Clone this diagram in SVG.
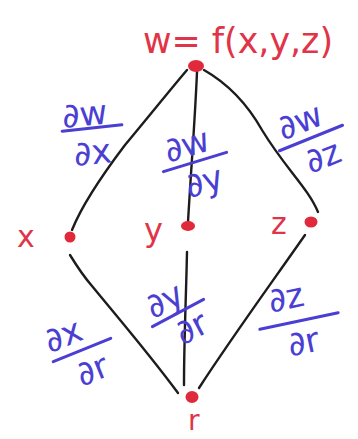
<svg xmlns="http://www.w3.org/2000/svg" width="358" height="439" viewBox="0 0 358 439">
<style>
.red{fill:#e03448;font-family:"DejaVu Sans",sans-serif;}
.dot{fill:#e02a3c;}
.edge{fill:none;stroke:#1c1c1c;stroke-width:2.4;stroke-linecap:round;stroke-linejoin:round;}
.frac text{fill:#4b3fd3;font-family:"DejaVu Sans",sans-serif;font-size:34px;text-anchor:middle;}
.frac line{stroke:#4b3fd3;stroke-width:3;stroke-linecap:round;}
</style>
<rect width="358" height="439" fill="#ffffff"/>
<g id="connectors">
<path class="edge" d="M187,70 C170,90 150,115 125,145 C100,178 82,205 72,230"/>
<path class="edge" d="M197,72 C195,120 191,170 188,222"/>
<path class="edge" d="M204,70 C225,82 245,100 262,130 C285,168 308,188 318,212"/>
<path class="edge" d="M70,255 C78,268 85,278 92,286 C120,320 150,355 178,393"/>
<path class="edge" d="M187,252 C186,300 184,340 184,385"/>
<path class="edge" d="M305,235 C270,285 230,340 199,388"/>
</g>
<g id="node-w">
<text class="red" x="143" y="53" font-size="36" textLength="190" lengthAdjust="spacingAndGlyphs">w= f(x,y,z)</text>
<ellipse class="dot" cx="196" cy="66" rx="8" ry="6"/>
</g>
<g id="node-x">
<text class="red" x="17" y="247" font-size="30">x</text>
<ellipse class="dot" cx="70" cy="237" rx="5.5" ry="5.5"/>
</g>
<g id="node-y">
<text class="red" x="144" y="241" font-size="32">y</text>
<ellipse class="dot" cx="188" cy="226" rx="7" ry="5"/>
</g>
<g id="node-z">
<text class="red" x="271" y="234" font-size="30">z</text>
<ellipse class="dot" cx="311" cy="222" rx="6.5" ry="5.5"/>
</g>
<g id="node-r">
<text class="red" x="188" y="430" font-size="28">r</text>
<ellipse class="dot" cx="192" cy="397" rx="6.5" ry="6"/>
</g>
<g id="labels">
<g class="frac" id="dw-dx" transform="translate(92,128) rotate(-6)">
<text x="-6" y="-3">∂w</text><line x1="-30" y1="0" x2="30" y2="0"/><text x="-2" y="36">∂x</text>
</g>
<g class="frac" id="dw-dy" transform="translate(195,162) rotate(-17)">
<text x="-3" y="-7">∂w</text><line x1="-33" y1="0" x2="33" y2="0"/><text x="3" y="33">∂y</text>
</g>
<g class="frac" id="dw-dz" transform="translate(311,138) rotate(-22)">
<text x="-4" y="-8">∂w</text><line x1="-34" y1="0" x2="34" y2="0"/><text x="4" y="33">∂z</text>
</g>
<g class="frac" id="dx-dr" transform="translate(82,350) rotate(-22)">
<text x="-12" y="-9">∂x</text><line x1="-31" y1="0" x2="31" y2="0"/><text x="2" y="34">∂r</text>
</g>
<g class="frac" id="dy-dr" transform="translate(178,313) rotate(-28)">
<text x="-6" y="-6">∂y</text><line x1="-29" y1="0" x2="29" y2="0"/><text x="5" y="31">∂r</text>
</g>
<g class="frac" id="dz-dr" transform="translate(299,321) rotate(-12)">
<text x="-8" y="-14">∂z</text><line x1="-40" y1="0" x2="40" y2="0"/><text x="0" y="33">∂r</text>
</g>
</g>
</svg>
